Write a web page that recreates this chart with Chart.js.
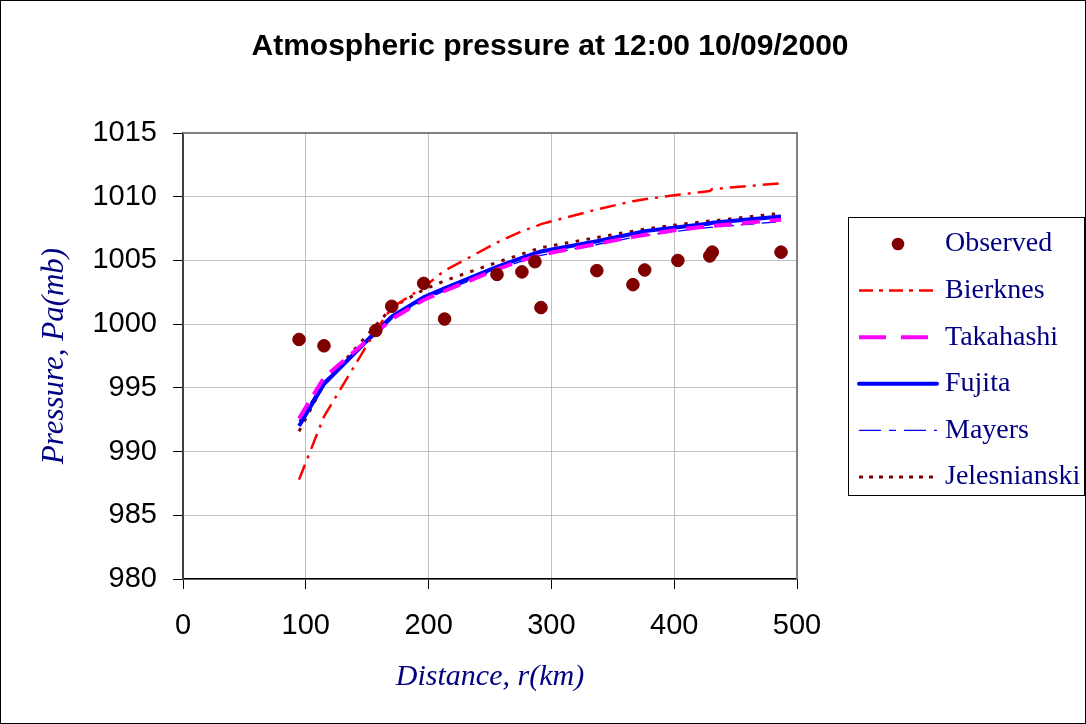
<!DOCTYPE html>
<html lang="en">
<head>
    <meta charset="UTF-8">
    <title>Atmospheric pressure at 12:00 10/09/2000</title>
    <script src="https://cdn.jsdelivr.net/npm/chart.js"></script>
    <style>
        html, body { margin: 0; padding: 0; background: #fff; }
        #wrap { width: 1086px; height: 724px; }
    </style>
</head>
<body>
    <div id="wrap">
        <canvas id="pressureChart" width="1086" height="724"></canvas>
    </div>

    <script>
        // distances of the observation stations (km)
        const distances = [94.5, 114.8, 157, 170, 196, 213, 255.7, 276, 286.6, 291.5, 337, 366.4, 376, 403, 429, 431, 487];

        // pressure values (mb)
        const observed     = [998.8, 998.3, 999.5, 1001.4, 1003.2, 1000.4, 1003.9, 1004.1, 1004.9, 1001.3, 1004.2, 1003.1, 1004.25, 1005.0, 1005.35, 1005.65, 1005.65];
        const bierknes     = [987.8, 992.75, 999.5, 1001.3, 1002.9, 1004.2, 1006.4, 1007.3, 1007.65, 1007.85, 1009.0, 1009.65, 1009.8, 1010.15, 1010.45, 1010.6, 1011.05];
        const takahashi    = [992.6, 995.8, 999.3, 1000.4, 1001.9, 1002.6, 1004.3, 1005.0, 1005.3, 1005.45, 1006.3, 1006.85, 1007.0, 1007.4, 1007.7, 1007.7, 1008.2];
        const fujita       = [992.0, 995.3, 999.4, 1000.6, 1002.1, 1002.8, 1004.5, 1005.2, 1005.55, 1005.7, 1006.5, 1007.1, 1007.3, 1007.6, 1007.9, 1007.95, 1008.45];
        const mayers       = [992.4, 995.5, 999.2, 1000.4, 1001.9, 1002.6, 1004.3, 1004.95, 1005.25, 1005.4, 1006.25, 1006.8, 1006.95, 1007.3, 1007.6, 1007.6, 1008.05];
        const jelesnianski = [991.6, 995.3, 999.9, 1001.3, 1002.7, 1003.4, 1004.85, 1005.5, 1005.85, 1006.0, 1006.8, 1007.3, 1007.45, 1007.8, 1008.1, 1008.1, 1008.7];

        const xTicks = [0, 100, 200, 300, 400, 500];
        const yTicks = [980, 985, 990, 995, 1000, 1005, 1010, 1015];

        const toPoints = vals => distances.map((d, i) => ({ x: d, y: vals[i] }));

        // legend line samples (shorter dashes than on the plot)
        const legendDash = {
            Bierknes: [14, 6, 4, 6],
            Takahashi: [27, 15],
            Fujita: [],
            Mayers: [22, 8, 7, 8],
            Jelesnianski: [4, 6]
        };

        // title, frame, plot border and legend
        const decorations = {
            id: 'decorations',
            afterDraw(chart) {
                const ctx = chart.ctx;
                const area = chart.chartArea;
                ctx.save();

                // outer frame
                ctx.strokeStyle = '#000';
                ctx.lineWidth = 1;
                ctx.strokeRect(0.5, 0.5, 1085, 723);

                // top and right border of the plot
                ctx.strokeStyle = '#808080';
                ctx.lineWidth = 2;
                ctx.beginPath();
                ctx.moveTo(area.left, area.top);
                ctx.lineTo(area.right, area.top);
                ctx.lineTo(area.right, area.bottom);
                ctx.stroke();

                // title
                ctx.fillStyle = '#000';
                ctx.font = 'bold 30px "Liberation Sans", Arial, sans-serif';
                ctx.textAlign = 'center';
                ctx.textBaseline = 'middle';
                ctx.fillText('Atmospheric pressure at 12:00 10/09/2000', 550, 47);

                // legend
                ctx.strokeStyle = '#000';
                ctx.lineWidth = 1;
                ctx.strokeRect(848.5, 217.5, 236, 278);
                ctx.font = '28px "Liberation Serif", "Times New Roman", serif';
                ctx.textAlign = 'left';
                chart.data.datasets.forEach((ds, i) => {
                    const y = 243 + i * 46.6;
                    if (ds.showLine === false) {
                        ctx.fillStyle = ds.backgroundColor;
                        ctx.beginPath();
                        ctx.arc(898, y + 1, 6.3, 0, Math.PI * 2);
                        ctx.fill();
                    } else {
                        ctx.strokeStyle = ds.borderColor;
                        ctx.lineWidth = ds.borderWidth;
                        ctx.setLineDash(legendDash[ds.label] || []);
                        ctx.lineCap = ds.label === 'Fujita' ? 'round' : 'butt';
                        ctx.beginPath();
                        ctx.moveTo(859, y + 1);
                        ctx.lineTo(937, y + 1);
                        ctx.stroke();
                        ctx.setLineDash([]);
                    }
                    ctx.fillStyle = '#000080';
                    ctx.fillText(ds.label, 945, y + 1);
                });
                ctx.restore();
            }
        };

        const tickFont = { family: '"Liberation Sans", Arial, sans-serif', size: 29 };
        const axisTitleFont = { family: '"Liberation Serif", "Times New Roman", serif', style: 'italic', size: 30 };

        new Chart(document.getElementById('pressureChart'), {
            type: 'scatter',
            data: {
                datasets: [
                    {
                        label: 'Observed',
                        data: toPoints(observed),
                        showLine: false,
                        pointRadius: 6.3,
                        pointBackgroundColor: '#800000',
                        pointBorderColor: '#800000',
                        backgroundColor: '#800000',
                        borderColor: '#800000'
                    },
                    {
                        label: 'Bierknes',
                        data: toPoints(bierknes),
                        showLine: true,
                        pointRadius: 0,
                        borderColor: '#ff0000',
                        borderWidth: 2.5,
                        borderDash: [16, 7, 3, 7]
                    },
                    {
                        label: 'Takahashi',
                        data: toPoints(takahashi),
                        showLine: true,
                        pointRadius: 0,
                        borderColor: '#ff00ff',
                        borderWidth: 4,
                        borderDash: [18, 10]
                    },
                    {
                        label: 'Fujita',
                        data: toPoints(fujita),
                        showLine: true,
                        pointRadius: 0,
                        borderColor: '#0000ff',
                        borderWidth: 4
                    },
                    {
                        label: 'Mayers',
                        data: toPoints(mayers),
                        showLine: true,
                        pointRadius: 0,
                        borderColor: '#0000ff',
                        borderWidth: 1.3,
                        borderDash: [14, 7]
                    },
                    {
                        label: 'Jelesnianski',
                        data: toPoints(jelesnianski),
                        showLine: true,
                        pointRadius: 0,
                        borderColor: '#800000',
                        borderWidth: 3,
                        borderDash: [3.5, 7.5]
                    }
                ]
            },
            options: {
                responsive: false,
                animation: false,
                layout: { padding: { top: 133, right: 289, bottom: 1, left: 1 } },
                plugins: {
                    legend: { display: false },
                    tooltip: { enabled: false },
                    title: { display: false }
                },
                scales: {
                    x: {
                        type: 'linear',
                        min: xTicks[0],
                        max: xTicks[xTicks.length - 1],
                        afterBuildTicks: scale => { scale.ticks = xTicks.map(v => ({ value: v })); },
                        afterFit: scale => { scale.height = 144; },
                        ticks: { font: tickFont, color: '#000', padding: 20, maxRotation: 0, callback: v => String(v) },
                        grid: { color: '#c0c0c0', lineWidth: 1, tickLength: 10, tickColor: '#000' },
                        border: { color: '#000', width: 1.5 },
                        title: {
                            display: true,
                            text: 'Distance, r(km)',
                            font: axisTitleFont,
                            color: '#000080',
                            padding: { top: 0, bottom: 28 }
                        }
                    },
                    y: {
                        type: 'linear',
                        min: yTicks[0],
                        max: yTicks[yTicks.length - 1],
                        afterBuildTicks: scale => { scale.ticks = yTicks.map(v => ({ value: v })); },
                        afterFit: scale => { scale.width = 182; },
                        ticks: { font: tickFont, color: '#000', padding: 16, callback: v => String(v) },
                        grid: { color: '#c0c0c0', lineWidth: 1, tickLength: 10, tickColor: '#000' },
                        border: { color: '#404040', width: 2 },
                        title: {
                            display: true,
                            text: 'Pressure, Pa(mb)',
                            font: { family: axisTitleFont.family, style: 'italic', size: 31 },
                            color: '#000080',
                            padding: { top: 35, bottom: 0 }
                        }
                    }
                }
            },
            plugins: [decorations]
        });
    </script>
</body>
</html>
